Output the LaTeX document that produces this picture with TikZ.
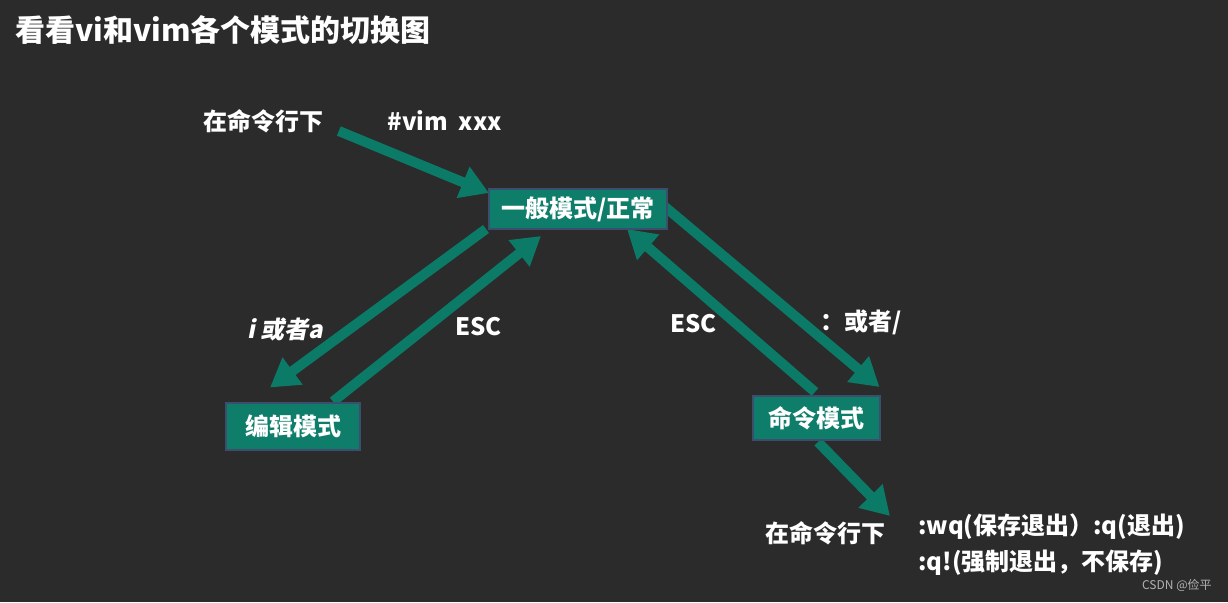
\documentclass[tikz,border=0pt]{standalone}
\usepackage{fontspec}
\setmainfont{Noto Sans CJK SC}
\newfontfamily\slantfont[FakeSlant=0.2]{Noto Sans CJK SC}
\usepackage{xcolor}
\usepackage{tikz}
\usetikzlibrary{arrows.meta, positioning}

\definecolor{chalk}{HTML}{2B2B2B}
\definecolor{modeteal}{HTML}{0E7E6A}
\definecolor{modeedge}{HTML}{3C4E6E}
\definecolor{arrowteal}{HTML}{0B7A67}

\pgfdeclarelayer{board}
\pgfdeclarelayer{links}
\pgfsetlayers{board,links,main}

\begin{document}
\begin{tikzpicture}[
    x=0.5pt, y=-0.5pt,
    mode/.style={draw=modeedge, line width=1pt, fill=modeteal, text=white, inner sep=0, font=\bfseries\fontsize{12}{14}\selectfont},
    lbl/.style={anchor=west, inner sep=0, text=white, font=\bfseries\fontsize{12}{14}\selectfont},
    arrow/.style={-{Triangle[length=14pt, width=16pt]}, line width=5pt, draw=arrowteal}
]
% Board
\begin{pgfonlayer}{board}
\fill[chalk] (0,0) rectangle (1228,602);
\end{pgfonlayer}
\node[anchor=west, inner sep=0, text=white, font=\bfseries\fontsize{15}{18}\selectfont] (title) at (15,30) {看看vi和vim各个模式的切换图};

% Modes
\node[mode, minimum width=89pt, minimum height=20pt] (normal) at (578,209) {一般模式/正常};
\node[mode, minimum width=67pt, minimum height=23.5pt] (edit) at (293,426) {编辑模式};
\node[mode, minimum width=63.5pt, minimum height=22pt] (cmd) at (816,418) {命令模式};

% Labels
\node[lbl] (cmdtop) at (203,121) {在命令行下};
\node[lbl] (vimcmd) at (387,121) {\#vim~~xxx};
\node[lbl] (insert) at (247,329) {\slantfont\bfseries i 或者a};
\node[lbl] (escl) at (455,327) {ESC};
\node[lbl] (escr) at (670,324) {ESC};
\node[lbl] (colon) at (820,322) {：或者/};
\node[lbl] (cmdbot) at (765,533) {在命令行下};
\node[lbl] (wq) at (918,527) {:wq(保存退出）:q(退出)};
\node[lbl] (qf) at (918,563) {:q!(强制退出，不保存)};
\node[anchor=east, inner sep=0, text=gray!60, font=\fontsize{6}{7}\selectfont] (mark) at (1212,585) {CSDN @俭平};

% Switches
\begin{pgfonlayer}{links}
\draw[arrow] ([shift={(15,10)}]cmdtop.east) -- ([shift={(1,5)}]normal.north west);
\draw[arrow] ([shift={(-2,-1)}]normal.south west) -- ([shift={(45,-14)}]edit.north west);
\draw[arrow] ([shift={(-28,0)}]edit.north east) -- ([shift={(53,6)}]normal.south west);
\draw[arrow] ([shift={(-4,-3)}]normal.east) -- ([shift={(-1,-8)}]cmd.north east);
\draw[arrow] ([shift={(-1,-3)}]cmd.north) -- ([shift={(-41,-1)}]normal.south east);
\draw[arrow] ([shift={(2,1)}]cmd.south) -- ([shift={(-28,-11)}]wq.west);
\end{pgfonlayer}
\end{tikzpicture}
\end{document}
